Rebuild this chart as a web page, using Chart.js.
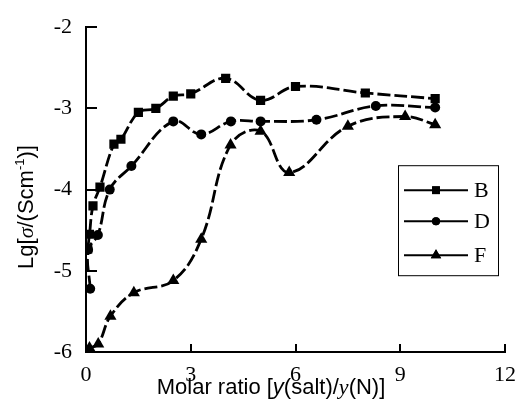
<!DOCTYPE html>
<html>
<head>
<meta charset="utf-8">
<script src="https://cdn.jsdelivr.net/npm/chart.js@4/dist/chart.umd.min.js"></script>
<style>
  html, body { margin: 0; padding: 0; background: #fff; }
  #wrap { width: 526px; height: 419px; }
</style>
</head>
<body>
<div id="wrap"><canvas id="chart" width="526" height="419"></canvas></div>
<script>
// series values
const seriesNames = ["B", "D", "F"];

const bX = [0.05, 0.1, 0.2, 0.4, 0.8, 1.0, 1.5, 2.0, 2.5, 3.0, 4.0, 5.0, 6.0, 8.0, 10.0];
const bY = [-4.73, -4.55, -4.2, -3.97, -3.44, -3.38, -3.05, -3.0, -2.85, -2.82, -2.63, -2.9, -2.73, -2.81, -2.88];

const dX = [0.12, 0.06, 0.34, 0.68, 1.3, 2.5, 3.3, 4.15, 5.0, 6.6, 8.3, 10.0];
const dY = [-5.22, -4.74, -4.56, -4.0, -3.71, -3.16, -3.32, -3.16, -3.16, -3.14, -2.97, -2.99];

const fX = [0.1, 0.35, 0.7, 1.37, 2.5, 3.3, 4.14, 5.0, 5.82, 7.5, 9.14, 10.0];
const fY = [-5.95, -5.9, -5.56, -5.27, -5.12, -4.61, -3.45, -3.28, -3.79, -3.22, -3.1, -3.2];

const xTicks = [0, 3, 6, 9, 12];
const yTicks = [-6, -5, -4, -3, -2];

const toPts = (xs, ys) => xs.map((x, i) => ({ x: x, y: ys[i] }));

const markers = ["rect", "circle", "triangle"];
const markerSize = [6.5, 5, 7];

const datasets = [toPts(bX, bY), toPts(dX, dY), toPts(fX, fY)].map((pts, i) => ({
  label: seriesNames[i],
  data: pts,
  borderColor: "#000",
  backgroundColor: "#000",
  borderWidth: 2.8,
  borderDash: [13, 4],
  tension: 0.4,
  pointStyle: markers[i],
  pointRadius: markerSize[i],
  pointBorderWidth: 0,
  fill: false,
}));

const serif = "'Liberation Serif', 'DejaVu Serif', serif";
const sans = "'Liberation Sans', Arial, sans-serif";

Chart.defaults.font.family = serif;
Chart.defaults.color = "#000";

function drawSegments(c, segs) {
  let total = 0;
  segs.forEach((s) => {
    c.font = s.font;
    s.w = c.measureText(s.t).width;
    total += s.w;
  });
  let x = -total / 2;
  segs.forEach((s) => {
    c.font = s.font;
    c.fillText(s.t, x, s.dy || 0);
    x += s.w;
  });
}

const extras = {
  id: "extras",
  afterDraw(chart) {
    const c = chart.ctx;
    const xs = chart.scales.x;
    const ys = chart.scales.y;
    const area = chart.chartArea;
    c.save();
    c.strokeStyle = "#000";
    c.fillStyle = "#000";
    c.lineWidth = 2;

    // inward ticks
    xTicks.forEach((v) => {
      if (v === 0) return;
      const px = Math.round(xs.getPixelForValue(v));
      c.beginPath();
      c.moveTo(px, area.bottom);
      c.lineTo(px, area.bottom - 8);
      c.stroke();
    });
    yTicks.forEach((v) => {
      if (v === -6) return;
      const py = Math.round(ys.getPixelForValue(v));
      c.beginPath();
      c.moveTo(area.left, py);
      c.lineTo(area.left + 11, py);
      c.stroke();
    });

    // legend box
    const lx = area.right - 107, ly = area.top + 138;
    c.lineWidth = 1;
    c.strokeRect(lx + 0.5, ly + 0.5, 100, 110);
    const rows = [25, 56, 90];
    chart.data.datasets.forEach((ds, i) => {
      const y = ly + rows[i];
      c.lineWidth = 2;
      c.setLineDash([]);
      c.beginPath();
      c.moveTo(lx + 6, y);
      c.lineTo(lx + 70, y);
      c.stroke();
      Chart.helpers.drawPoint(c, { pointStyle: ds.pointStyle, radius: ds.pointRadius - 1, borderWidth: 0 }, lx + 38, y);
      c.fill();
      c.font = "22px " + serif;
      c.textBaseline = "middle";
      c.textAlign = "left";
      c.fillText(ds.label, lx + 76, y + 1);
    });

    // axis titles
    c.textBaseline = "alphabetic";
    c.textAlign = "left";
    c.save();
    c.translate(271, 394);
    drawSegments(c, [
      { t: "Molar ratio [", font: "22px " + sans },
      { t: "y", font: "italic 22px " + sans },
      { t: "(salt)/", font: "22px " + sans },
      { t: "y", font: "italic 22px " + serif },
      { t: "(N)]", font: "22px " + sans },
    ]);
    c.restore();

    c.save();
    c.translate(33, 207);
    c.rotate(-Math.PI / 2);
    drawSegments(c, [
      { t: "Lg[", font: "22px " + sans },
      { t: "σ", font: "italic 22px " + serif },
      { t: "/(Scm", font: "22px " + sans },
      { t: "-1", font: "13px " + sans, dy: -9 },
      { t: ")]", font: "22px " + sans },
    ]);
    c.restore();

    c.restore();
  },
};

new Chart(document.getElementById("chart"), {
  type: "line",
  data: { datasets: datasets },
  options: {
    responsive: false,
    animation: false,
    layout: { padding: { top: 20, right: 16, left: 0, bottom: 0 } },
    plugins: { legend: { display: false }, tooltip: { enabled: false } },
    scales: {
      x: {
        type: "linear",
        min: 0,
        max: 12,
        afterBuildTicks: (s) => { s.ticks = xTicks.map((v) => ({ value: v })); },
        afterFit: (s) => { s.height = 67; },
        grid: { display: false, drawTicks: false },
        border: { display: true, color: "#000", width: 2 },
        ticks: { color: "#000", padding: 10, maxRotation: 0, font: { family: serif, size: 22 } },
      },
      y: {
        type: "linear",
        min: -6,
        max: -2,
        afterBuildTicks: (s) => { s.ticks = yTicks.map((v) => ({ value: v })); },
        afterFit: (s) => { s.width = 86; },
        grid: { display: false, drawTicks: false },
        border: { display: true, color: "#000", width: 2 },
        ticks: { color: "#000", padding: 14, font: { family: serif, size: 22 } },
      },
    },
  },
  plugins: [extras],
});
</script>
</body>
</html>
